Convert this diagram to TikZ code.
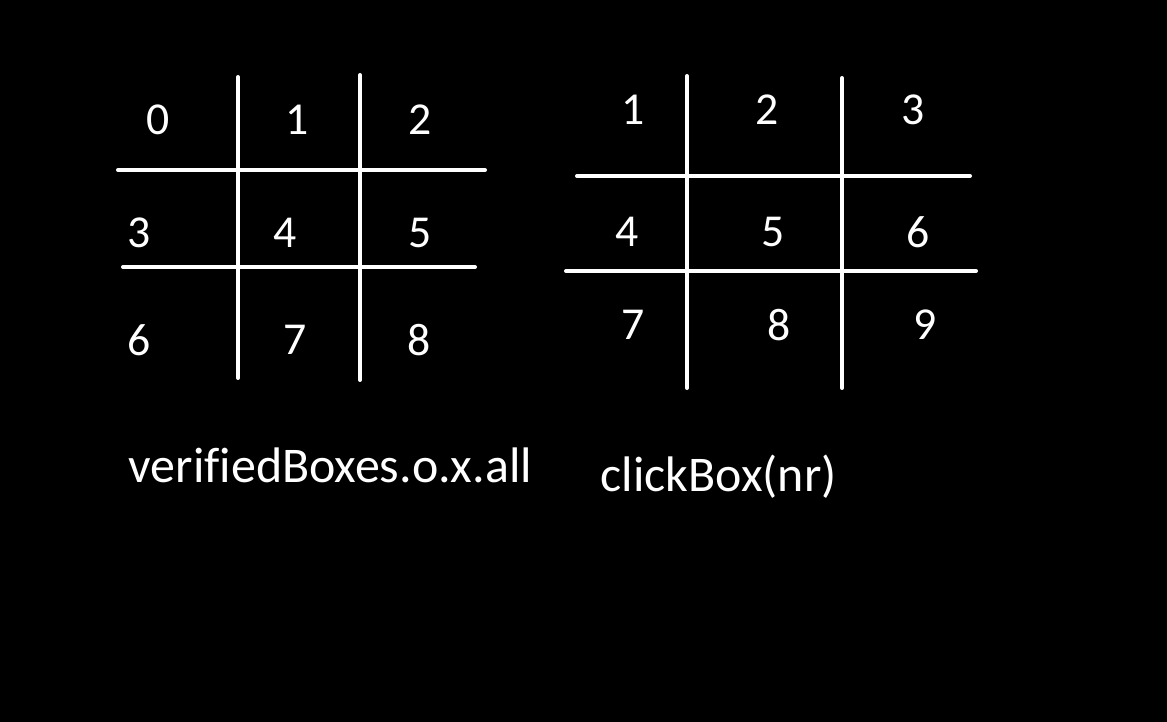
\documentclass[tikz,border=0pt]{standalone}
\usepackage{fontspec}
\setmainfont{Carlito}[Ligatures=CommonOff]
\usepackage{xcolor}
\definecolor{bgblack}{RGB}{0,0,0}
\definecolor{chalk}{RGB}{255,255,255}
\tikzstyle{gridline} = [line width=0.04cm, color=chalk, line cap=round]
\tikzstyle{cell} = [inner sep=0pt, text=chalk, font=\fontsize{13}{15}\selectfont]
\tikzstyle{caption} = [inner sep=0pt, anchor=base west, text=chalk, font=\fontsize{14.2}{17}\selectfont]

\begin{document}
\begin{tikzpicture}[x=0.01cm, y=-0.01cm]
% Background
\fill[bgblack] (0,0) rectangle (1167,722);
\useasboundingbox (0,0) rectangle (1167,722);

% Left grid
\draw[gridline] (238,77) -- (238,378);
\draw[gridline] (360,75) -- (360,380);
\draw[gridline] (118,170) -- (485,170);
\draw[gridline] (123,267) -- (475,267);

% Left grid numbers
\node[cell] (l0) at (158,120) {0};
\node[cell] (l1) at (297,120) {1};
\node[cell] (l2) at (420,120) {2};
\node[cell] (l3) at (139,233) {3};
\node[cell] (l4) at (285,233) {4};
\node[cell] (l5) at (420,233) {5};
\node[cell] (l6) at (139,340) {6};
\node[cell] (l7) at (295,340) {7};
\node[cell] (l8) at (419,340) {8};

% Right grid
\draw[gridline] (687,76) -- (687,388);
\draw[gridline] (842,78) -- (842,388);
\draw[gridline] (577,176) -- (970,176);
\draw[gridline] (566,271) -- (976,271);

% Right grid numbers
\node[cell] (r1) at (633,110) {1};
\node[cell] (r2) at (767,110) {2};
\node[cell] (r3) at (913,110) {3};
\node[cell] (r4) at (627,232) {4};
\node[cell] (r5) at (773,232) {5};
\node[cell] (r6) at (918,232) {6};
\node[cell] (r7) at (633,325) {7};
\node[cell] (r8) at (779,325) {8};
\node[cell] (r9) at (925,325) {9};

% Captions
\node[caption] (leftcap) at (128,483) {verifiedBoxes.o.x.all};
\node[caption] (rightcap) at (600,492) {clickBox(nr)};
\end{tikzpicture}
\end{document}
